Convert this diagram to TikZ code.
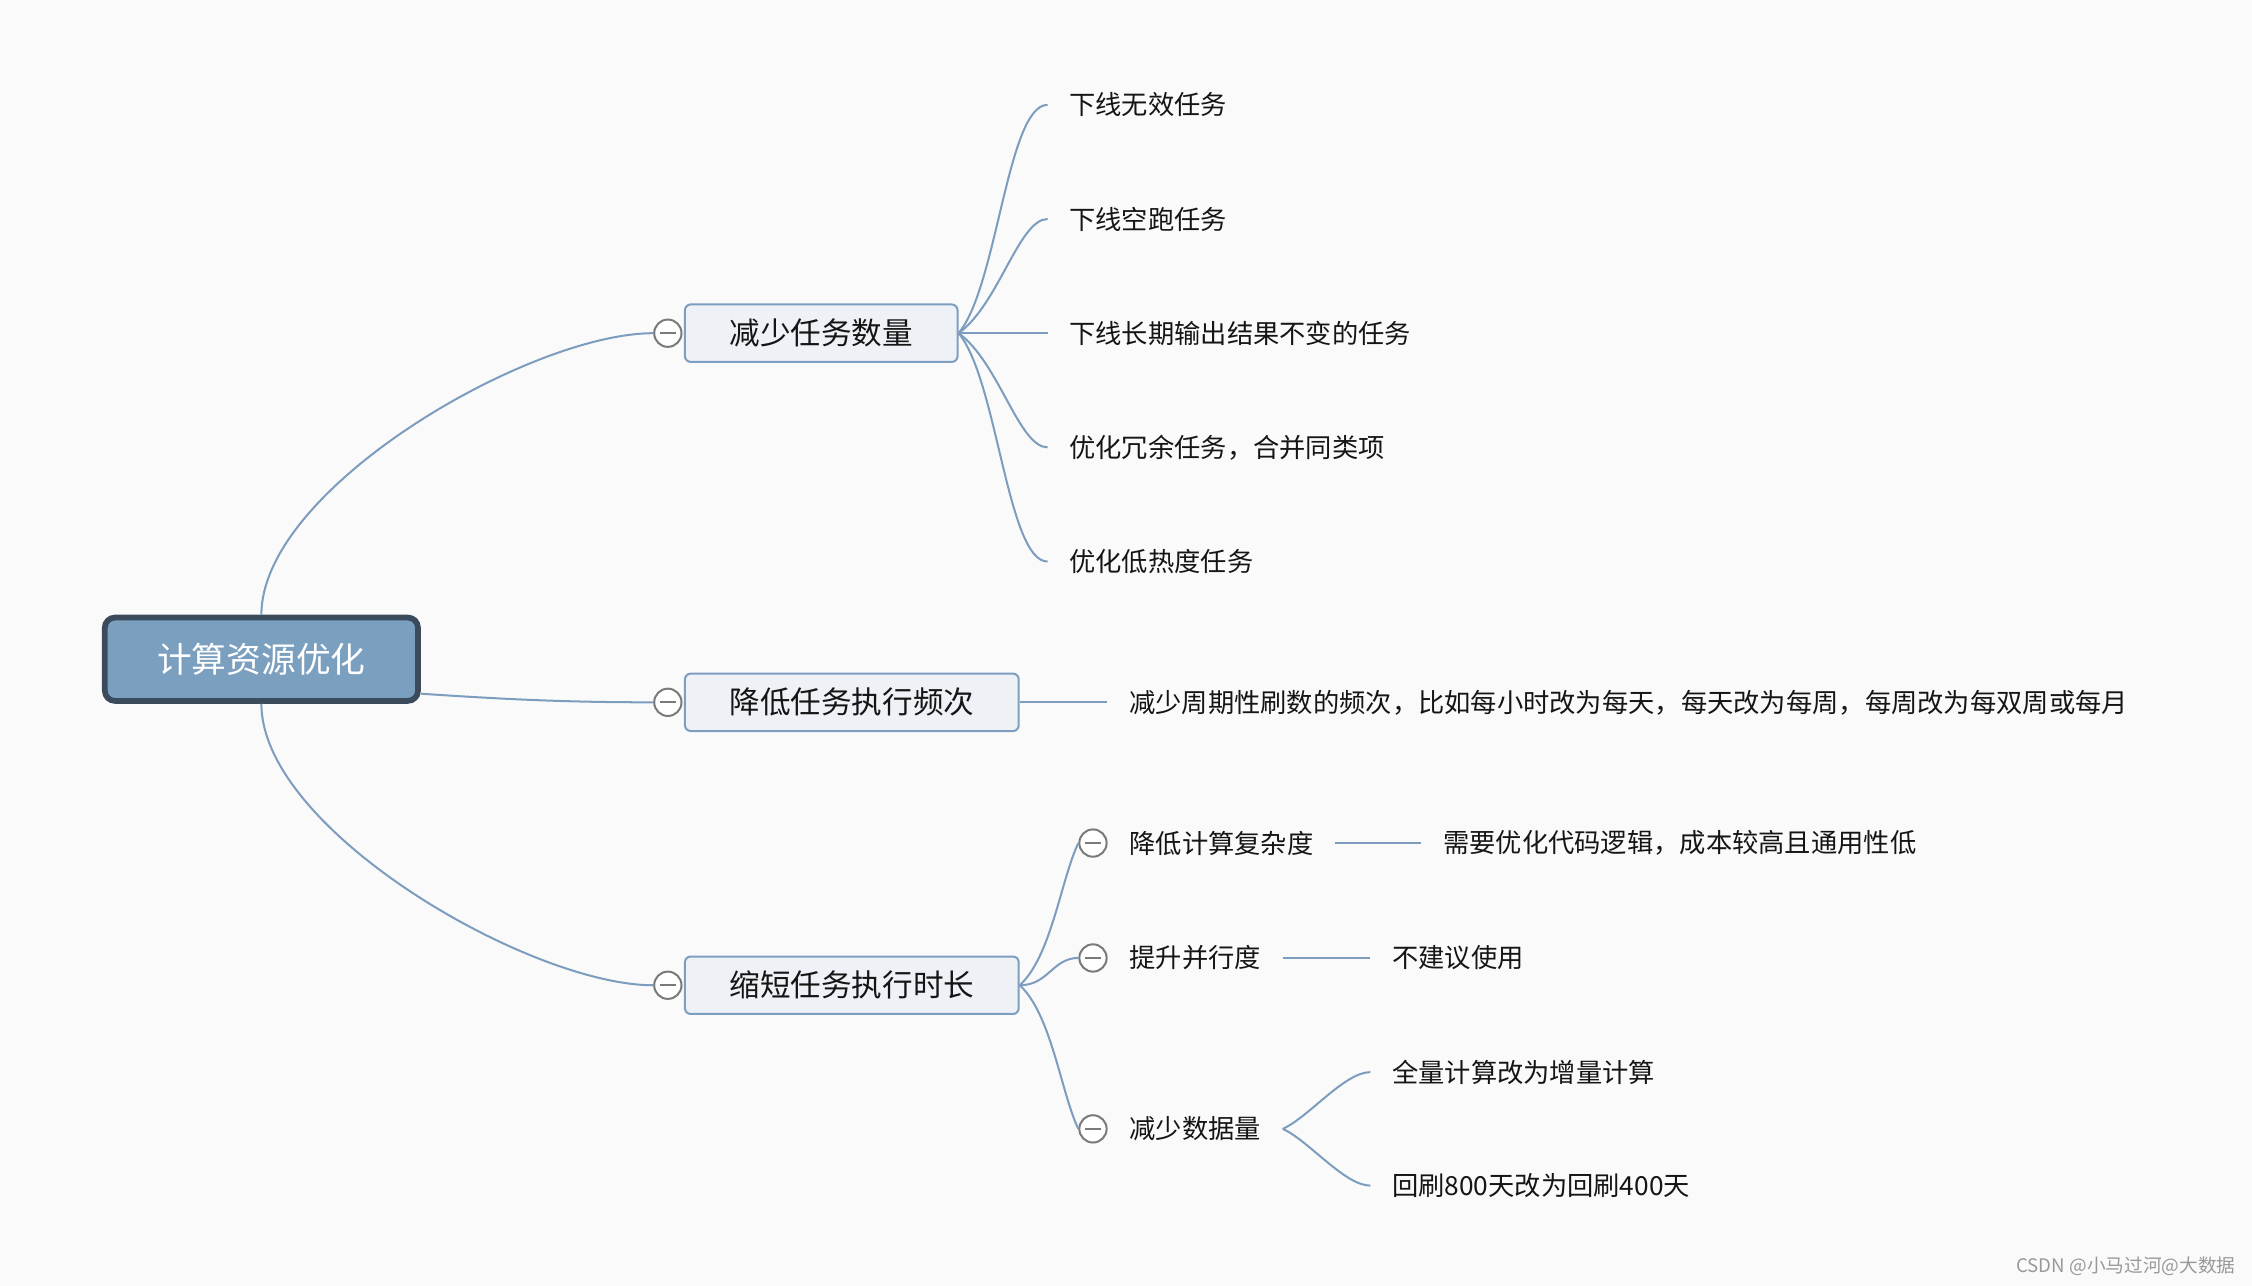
\documentclass[tikz,border=0pt]{standalone}
\usepackage{fontspec}
\setmainfont{Noto Sans CJK SC}
\usepackage{xcolor}
\usetikzlibrary{positioning}

\definecolor{bgcol}{HTML}{FAFAFA}
\definecolor{linecol}{HTML}{7D9DBE}
\definecolor{rootfill}{HTML}{7B9FBF}
\definecolor{rootdraw}{HTML}{3C4B5B}
\definecolor{boxfill}{HTML}{EEF2F7}
\definecolor{boxdraw}{HTML}{7E9EC0}
\definecolor{foldcol}{HTML}{7A7A7A}
\definecolor{txtcol}{HTML}{151515}

\begin{document}
\begin{tikzpicture}[x=1pt, y=-1pt,
    rootbox/.style={draw=rootdraw, fill=rootfill, line width=4pt, rounded corners=7pt,
        minimum width=218pt, minimum height=58pt, text=white,
        font=\fontsize{24.2}{28}\selectfont},
    mainbox/.style={draw=boxdraw, fill=boxfill, line width=1.4pt, rounded corners=4pt,
        inner xsep=31pt, minimum height=40pt, text=txtcol,
        font=\fontsize{21.3}{25}\selectfont},
    foldmark/.style={circle, draw=foldcol, fill=white, line width=1.4pt, minimum size=19pt,
        inner sep=0pt, path picture={\draw[foldcol, line width=1.5pt]
        ([xshift=-5.5pt]path picture bounding box.center) -- ([xshift=5.5pt]path picture bounding box.center);}},
    topic/.style={inner xsep=15pt, inner ysep=4pt, text=txtcol,
        font=\fontsize{18.3}{22}\selectfont},
    branch/.style={draw=linecol, line width=1.4pt}]

    \fill[bgcol] (0,0) rectangle (1568,895.4);
    \useasboundingbox (0,0) rectangle (1568,895.4);

    % root and first level
    \node (root) [rootbox] at (182,459) {计算资源优化};
    \node (m1) [foldmark] at (465,232) {};
    \node (m2) [foldmark] at (465,489) {};
    \node (m3) [foldmark] at (465,686) {};
    \node (b1) [mainbox, right=1pt of m1] {减少任务数量};
    \node (b2) [mainbox, right=1pt of m2] {降低任务执行频次};
    \node (b3) [mainbox, right=1pt of m3] {缩短任务执行时长};

    \draw[branch] (root.north) .. controls +(0,-88) and +(-86,0) .. (m1.west);
    \draw[branch] ([yshift=-24pt]root.east) .. controls +(60,4) and +(-60,0) .. (m2.west);
    \draw[branch] (root.south) .. controls +(0,88) and +(-86,0) .. (m3.west);

    % 减少任务数量
    \node (t3) [topic, right=62pt of b1] {下线长期输出结果不变的任务};
    \node (t2) [topic, above=79.5pt of t3.west, anchor=west] {下线空跑任务};
    \node (t1) [topic, above=159pt of t3.west, anchor=west] {下线无效任务};
    \node (t4) [topic, below=79.5pt of t3.west, anchor=west] {优化冗余任务，合并同类项};
    \node (t5) [topic, below=159pt of t3.west, anchor=west] {优化低热度任务};

    \draw[branch] (b1.east) .. controls +(27,-32) and +(-28,0) .. (t1.west);
    \draw[branch] (b1.east) .. controls +(28,-20) and +(-20,0) .. (t2.west);
    \draw[branch] (b1.east) -- (t3.west);
    \draw[branch] (b1.east) .. controls +(28,20) and +(-20,0) .. (t4.west);
    \draw[branch] (b1.east) .. controls +(27,32) and +(-28,0) .. (t5.west);

    % 降低任务执行频次
    \node (f1) [topic, right=61pt of b2] {减少周期性刷数的频次，比如每小时改为每天，每天改为每周，每周改为每双周或每月};
    \draw[branch] (b2.east) -- (f1.west);

    % 缩短任务执行时长
    \node (k1) [foldmark] at (761,587) {};
    \node (k2) [foldmark] at (761,667) {};
    \node (k3) [foldmark] at (761,786) {};
    \node (s1) [topic, right=0pt of k1] {降低计算复杂度};
    \node (s2) [topic, right=0pt of k2] {提升并行度};
    \node (s3) [topic, right=0pt of k3] {减少数据量};
    \node (l1) [topic, right=60pt of s1] {需要优化代码逻辑，成本较高且通用性低};
    \node (l2) [topic, right=61pt of s2] {不建议使用};
    \node (l3) [topic, above right=39.5pt and 61pt of s3.east, anchor=west] {全量计算改为增量计算};
    \node (l4) [topic, below right=39.5pt and 61pt of s3.east, anchor=west] {回刷800天改为回刷400天};

    \draw[branch] (b3.east) .. controls +(22,-20) and +(-12,25) .. (k1.west);
    \draw[branch] (b3.east) .. controls +(20,0) and +(-18,0) .. (k2.west);
    \draw[branch] (b3.east) .. controls +(22,20) and +(-12,-25) .. (k3.west);
    \draw[branch] (s1.east) -- (l1.west);
    \draw[branch] (s2.east) -- (l2.west);
    \draw[branch] (s3.east) .. controls +(18,-8) and +(-18,0) .. (l3.west);
    \draw[branch] (s3.east) .. controls +(18,8) and +(-18,0) .. (l4.west);

    \node (csdn) [anchor=east, text=gray!80, font=\fontsize{13}{15}\selectfont] at (1560,882) {CSDN @小马过河@大数据};
\end{tikzpicture}
\end{document}
